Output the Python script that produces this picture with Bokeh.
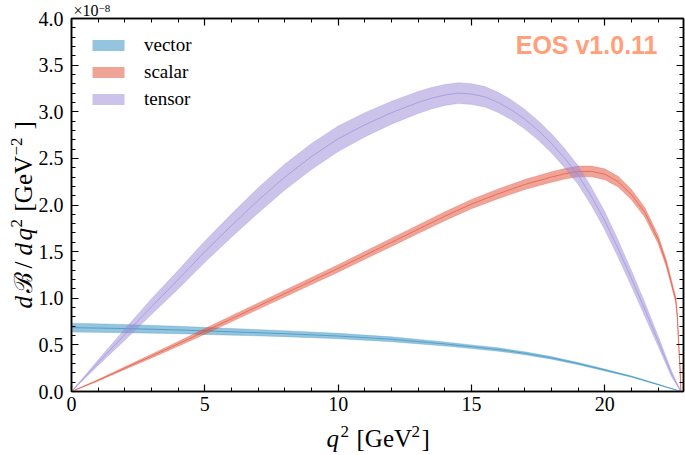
import numpy as np
from bokeh.plotting import figure
from bokeh.core.properties import value
from bokeh.models import (Range1d, LinearAxis, SingleIntervalTicker, NumeralTickFormatter,
                          CustomJSTickFormatter, Legend, LegendItem)
from bokeh.embed import file_html
from bokeh.resources import INLINE

# ---------------- data (values in units of 1e-8 GeV^-2) ----------------
q2_vector = [0, 2, 4, 6, 8, 10, 12, 14, 15, 16, 17, 18, 19, 20, 21, 22, 22.85]
vector_central = [0.685, 0.675, 0.66, 0.64, 0.62, 0.595, 0.56, 0.51, 0.48, 0.45, 0.41, 0.36, 0.30, 0.23, 0.16, 0.075, 0.0]
vector_halfwidth = [0.048, 0.044, 0.04, 0.036, 0.032, 0.029, 0.026, 0.022, 0.02, 0.018, 0.016, 0.014, 0.012, 0.01, 0.007, 0.004, 0.0]

q2_scalar = [0, 1, 2, 3, 4, 5, 6, 7, 8, 9, 10, 11, 12, 13, 14, 15, 16, 17, 18, 18.5, 19, 19.5, 20,
             20.5, 21, 21.5, 22, 22.3, 22.5, 22.66, 22.72, 22.78, 22.82, 22.85]
scalar_central = [0.0, 0.12, 0.25, 0.38, 0.51, 0.645, 0.78, 0.915, 1.05, 1.185, 1.32, 1.46, 1.60, 1.74,
                  1.88, 2.01, 2.12, 2.22, 2.30, 2.335, 2.36, 2.36, 2.33, 2.25, 2.11, 1.92, 1.63, 1.38,
                  1.16, 0.98, 0.80, 0.45, 0.25, 0.0]
scalar_halfwidth = [0.0, 0.008, 0.015, 0.02, 0.025, 0.03, 0.032, 0.034, 0.036, 0.038, 0.04, 0.042, 0.044,
                    0.046, 0.048, 0.05, 0.052, 0.054, 0.056, 0.057, 0.058, 0.058, 0.058, 0.057, 0.055,
                    0.052, 0.045, 0.04, 0.035, 0.03, 0.025, 0.015, 0.01, 0.0]

q2_tensor = [0, 1, 2, 3, 4, 5, 6, 7, 8, 9, 10, 11, 12, 13, 13.5, 14, 14.5, 15, 15.5, 16, 16.5, 17,
             17.5, 18, 18.5, 19, 19.5, 20, 20.5, 21, 21.5, 22, 22.5, 22.85]
tensor_central = [0.0, 0.31, 0.61, 0.91, 1.20, 1.50, 1.78, 2.05, 2.30, 2.52, 2.71, 2.86, 2.99, 3.10,
                  3.145, 3.18, 3.20, 3.19, 3.16, 3.10, 3.02, 2.92, 2.80, 2.66, 2.50, 2.32, 2.09, 1.83,
                  1.53, 1.21, 0.88, 0.54, 0.19, 0.0]
tensor_halfwidth = [0.0, 0.03, 0.06, 0.085, 0.10, 0.115, 0.125, 0.135, 0.14, 0.14, 0.137, 0.13, 0.123,
                    0.118, 0.115, 0.113, 0.112, 0.111, 0.11, 0.108, 0.107, 0.105, 0.104, 0.103, 0.102,
                    0.1, 0.099, 0.098, 0.092, 0.085, 0.075, 0.055, 0.032, 0.0]

labels = ["vector", "scalar", "tensor"]
colors = ["#2989bd", "#e14931", "#9787d5"]

x_major_ticks = 5
y_major_ticks = 0.5
x_limits = (0.0, 22.95)
y_limits = (0.0, 4.0)

# ---------------- layout ----------------
W, H = 685, 455
FL, FR, FT, FB = 71, 2, 18, 64

p = figure(width=W, height=H, output_backend="svg", toolbar_location=None,
           x_range=Range1d(*x_limits), y_range=Range1d(*y_limits),
           x_axis_type=None, y_axis_type=None,
           min_border_left=FL, min_border_right=FR, min_border_top=FT, min_border_bottom=FB)
p.background_fill_color = "white"
p.border_fill_color = "white"
p.outline_line_color = "black"
p.outline_line_width = 1.5
p.xgrid.visible = False
p.ygrid.visible = False

SERIF = "Liberation Serif"


def style_axis(ax, show_labels):
    ax.axis_line_color = "black"
    ax.axis_line_width = 1.5
    ax.major_tick_in = 7
    ax.major_tick_out = 0
    ax.minor_tick_in = 4
    ax.minor_tick_out = 0
    ax.major_tick_line_width = 1.2
    ax.minor_tick_line_width = 1.0
    ax.major_label_text_font = SERIF
    ax.major_label_text_font_size = "20px"
    ax.major_label_text_color = "black"
    if not show_labels:
        ax.formatter = CustomJSTickFormatter(code="return ''")
        ax.major_label_standoff = 0


xb = LinearAxis(ticker=SingleIntervalTicker(interval=x_major_ticks, num_minor_ticks=5),
                formatter=NumeralTickFormatter(format="0"))
style_axis(xb, True)
xb.major_label_standoff = 5
p.add_layout(xb, "below")

yl = LinearAxis(ticker=SingleIntervalTicker(interval=y_major_ticks, num_minor_ticks=5),
                formatter=NumeralTickFormatter(format="0.0"))
style_axis(yl, True)
yl.major_label_standoff = 8
p.add_layout(yl, "left")

xt = LinearAxis(ticker=SingleIntervalTicker(interval=x_major_ticks, num_minor_ticks=5))
style_axis(xt, False)
p.add_layout(xt, "above")

yr = LinearAxis(ticker=SingleIntervalTicker(interval=y_major_ticks, num_minor_ticks=5))
style_axis(yr, False)
p.add_layout(yr, "right")

# ---------------- bands ----------------
series = [
    (q2_vector, vector_central, vector_halfwidth),
    (q2_scalar, scalar_central, scalar_halfwidth),
    (q2_tensor, tensor_central, tensor_halfwidth),
]
items = []
for (qq, c, hw), lab, col in zip(series, labels, colors):
    qq = np.array(qq, float)
    c = np.array(c, float)
    hw = np.array(hw, float)
    lo = np.clip(c - hw, 0, None)
    hi = c + hw
    r = p.varea(x=qq, y1=lo, y2=hi, fill_color=col, fill_alpha=0.5)
    p.line(qq, hi, line_color=col, line_alpha=0.3, line_width=0.8)
    p.line(qq, lo, line_color=col, line_alpha=0.3, line_width=0.8)
    p.line(qq, c, line_color=col, line_alpha=0.6, line_width=1.0)
    items.append(LegendItem(label=lab, renderers=[r]))

legend = Legend(items=items, location=(17, 281), orientation="vertical")
legend.background_fill_alpha = 0
legend.border_line_alpha = 0
legend.padding = 0
legend.margin = 0
legend.spacing = 5
legend.glyph_width = 40
legend.glyph_height = 14
legend.label_height = 14
legend.label_standoff = 16
legend.label_text_font = SERIF
legend.label_text_font_size = "19px"
legend.label_text_color = "black"
p.add_layout(legend, "center")


# ---------------- text pieces (page pixel -> data coords) ----------------
def dx(px):
    return x_limits[0] + (px - FL) / (W - FL - FR) * (x_limits[1] - x_limits[0])


def dy(py):
    return y_limits[0] + (H - FB - py) / (H - FT - FB) * (y_limits[1] - y_limits[0])


MID = 0.345  # distance (in em) from baseline up to the text's vertical middle


def piece(text, px, py, size, style="normal", angle=0.0, font=SERIF, color="black", align="left"):
    """px, py: position of the start of the text on its baseline (page pixels)."""
    s = float(size.replace("px", ""))
    if angle == 0.0:
        ax_, ay_ = px, py - MID * s
    else:  # rotated to read upward: glyph tops point left
        ax_, ay_ = px - MID * s, py
    p.text(x=[dx(ax_)], y=[dy(ay_)], text=[text], text_font=value(font), text_font_size=value(size),
           text_font_style=value(style), angle=angle, text_align=value(align),
           text_baseline=value("middle"), text_color=color, level="overlay")


# x-axis label: q^2 [GeV^2]
XB = 447
piece("q", 326, XB, "25px", "italic")
piece("2", 340, XB - 10, "17px")
piece("[GeV", 356, XB, "25px")
piece("2", 411, XB - 10, "17px")
piece("]", 421, XB, "25px")

# y-axis label: dB/dq^2 [GeV^-2] (rotated, reading upward)
YB = 32
A = np.pi / 2
piece("d", YB, 308, "25px", "italic", A)
piece("\u212c", YB, 292, "25px", "normal", A)
piece("/", YB, 268, "25px", "normal", A)
piece("d", YB, 255, "25px", "italic", A)
piece("q", YB, 240, "25px", "italic", A)
piece("2", YB - 10, 227, "17px", "normal", A)
piece("[GeV", YB, 211, "25px", "normal", A)
piece("\u22122", YB - 10, 155, "17px", "normal", A)
piece("]", YB, 129, "25px", "normal", A)

# scale factor
piece("\u00d710", 73, 16, "16px")
piece("\u22128", 98, 12, "11px")

# EOS watermark
piece("EOS v1.0.11", 657, 53, "25px", "bold", 0.0, "Liberation Sans", "#ffa07a", "right")

open("out.html", "w").write(file_html(p, INLINE))
